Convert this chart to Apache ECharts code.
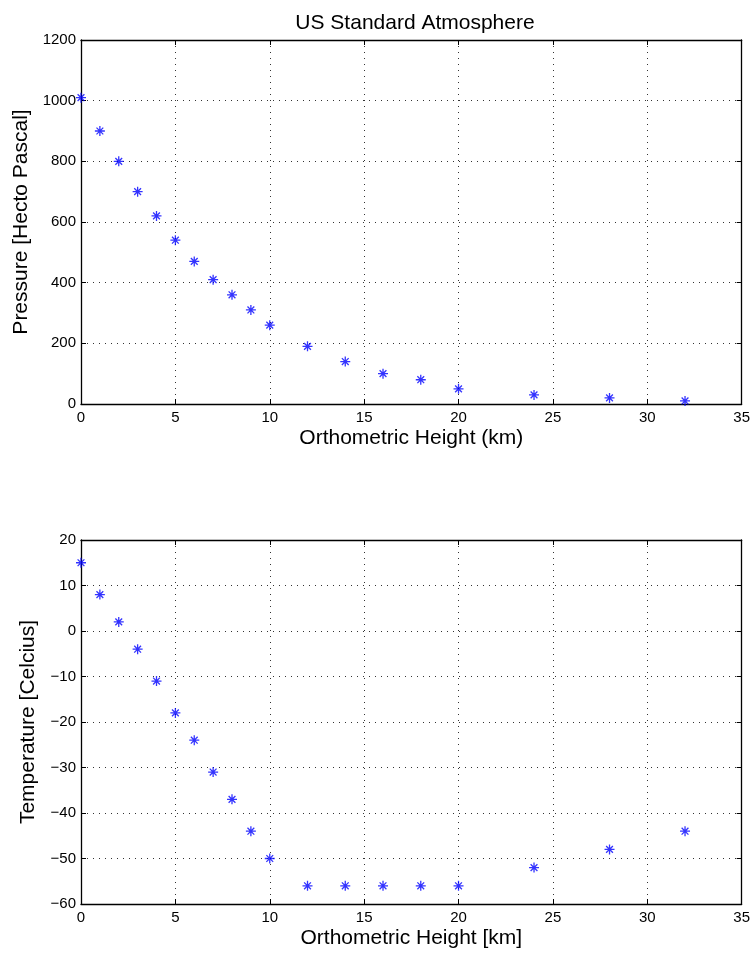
<!DOCTYPE html>
<html>
<head>
<meta charset="utf-8">
<script src="https://cdn.jsdelivr.net/npm/echarts@6/dist/echarts.min.js"></script>
<style>
  html, body { margin: 0; padding: 0; background: #fff; }
  #chart { width: 753px; height: 956px; }
</style>
</head>
<body>
<div id="chart"></div>
<script>
// Standard atmosphere samples by orthometric height (km)
const heightsKm = [0, 1, 2, 3, 4, 5, 6, 7, 8, 9, 10, 12, 14, 16, 18, 20, 24, 28, 32];
const pressureHPa = [1010, 900, 800, 700, 620, 540, 470, 410, 360, 310, 260, 190, 140, 100, 80, 50, 30, 20, 10];
const temperatureC = [15, 8, 2, -4, -11, -18, -24, -31, -37, -44, -50, -56, -56, -56, -56, -56, -52, -48, -44];

const titleText = 'US Standard Atmosphere';
const xNameTop = 'Orthometric Height (km)';
const xNameBottom = 'Orthometric Height [km]';
const yNameTop = 'Pressure [Hecto Pascal]';
const yNameBottom = 'Temperature [Celcius]';

const FONT = 'Liberation Sans, Arial, Helvetica, sans-serif';
const ASTERISK = 'path://M5,0 L5,10 M0,5 L10,5 M1.6,1.6 L8.4,8.4 M1.6,8.4 L8.4,1.6';

const gridLine = { show: true, lineStyle: { color: '#333', width: 1, type: [1, 5] } };
const frameLine = { show: true, onZero: false, lineStyle: { color: '#000', width: 1.3 } };
const tick = { show: true, inside: true, length: 5, lineStyle: { color: '#000', width: 1 } };
// plain numbers with a typographic minus sign, no thousands separator
const plainNumber = v => String(v).replace('-', '\u2212');
const tickLabel = { color: '#000', fontSize: 15, fontFamily: FONT, formatter: plainNumber };
const nameStyle = { color: '#000', fontSize: 21, fontFamily: FONT };

function xAxes(gridIndex, name) {
  return [
    {
      type: 'value', gridIndex, min: 0, max: 35, interval: 5, position: 'bottom',
      name, nameLocation: 'middle', nameGap: 24, nameTextStyle: nameStyle,
      axisLine: frameLine, axisTick: tick, axisLabel: Object.assign({ margin: 6 }, tickLabel),
      splitLine: gridLine
    },
    {
      type: 'value', gridIndex, min: 0, max: 35, interval: 5, position: 'top',
      axisLine: frameLine, axisTick: tick, axisLabel: { show: false }, splitLine: { show: false }
    }
  ];
}

function yAxes(gridIndex, name, min, max, interval, gap) {
  return [
    {
      type: 'value', gridIndex, min, max, interval, position: 'left',
      name, nameLocation: 'middle', nameGap: gap, nameRotate: 90, nameTextStyle: nameStyle,
      axisLine: frameLine, axisTick: tick, axisLabel: Object.assign({ margin: 5 }, tickLabel),
      splitLine: gridLine
    },
    {
      type: 'value', gridIndex, min, max, interval, position: 'right',
      axisLine: frameLine, axisTick: tick, axisLabel: { show: false }, splitLine: { show: false }
    }
  ];
}

function scatter(values, axisIndex) {
  return {
    type: 'scatter',
    xAxisIndex: axisIndex, yAxisIndex: axisIndex,
    data: heightsKm.map((h, i) => [h, values[i]]),
    symbol: ASTERISK, symbolSize: 10,
    itemStyle: { color: 'transparent', borderColor: '#0000ff', borderWidth: 1.3 },
    silent: true, animation: false, clip: false
  };
}

const chart = echarts.init(document.getElementById('chart'), null, { renderer: 'canvas' });
chart.setOption({
  backgroundColor: '#fff',
  animation: false,
  title: {
    text: titleText, left: 410, top: 8, textAlign: 'center',
    textStyle: { color: '#000', fontSize: 21, fontWeight: 'normal', fontFamily: FONT }
  },
  grid: [
    { left: 81, right: 9, top: 40, height: 364 },
    { left: 81, right: 9, top: 540, height: 364 }
  ],
  xAxis: [...xAxes(0, xNameTop), ...xAxes(1, xNameBottom)],
  yAxis: [...yAxes(0, yNameTop, 0, 1200, 200, 44), ...yAxes(1, yNameBottom, -60, 20, 10, 42)],
  series: [scatter(pressureHPa, 0), scatter(temperatureC, 2)]
});
</script>
</body>
</html>
